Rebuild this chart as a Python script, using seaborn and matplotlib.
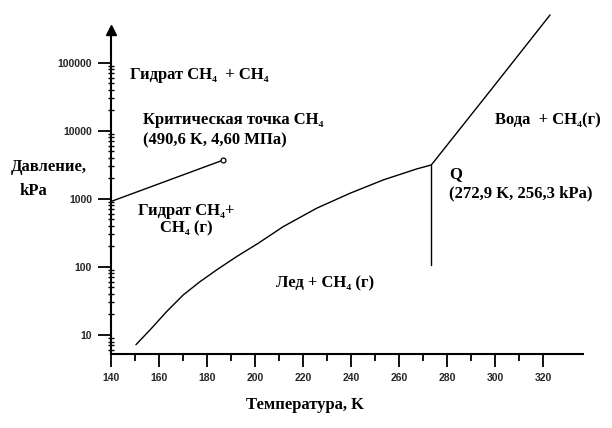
import numpy as np
import pandas as pd
import seaborn as sns
import matplotlib.pyplot as plt
from matplotlib.ticker import FixedLocator, NullFormatter

# hydrate + CH4 / hydrate + CH4(g) boundary, ends at the CH4 critical point
hyd_T = [140, 186.9]
hyd_P = [910, 3720]

# ice + CH4(g) / hydrate boundary up to quadruple point Q
ice_T = [150.5, 156.4, 163.3, 170.2, 177.2, 184.1, 192.4, 201.4, 211.8, 225.7,
         239.6, 253.4, 267.3, 273.4]
ice_P = [7.2, 11.9, 22.1, 38.8, 60.8, 90.4, 141.7, 222.6, 390.8, 727.8,
         1208, 1896, 2748, 3147]

# vertical ice / water line below Q
q_T = [273.4, 273.4]
q_P = [3147, 107]

# water + CH4(g) / hydrate boundary above Q
wat_T = [273.4, 298.5, 322.8]
wat_P = [3147, 41100, 503000]

y_major = [10, 100, 1000, 10000, 100000]
x_major = list(range(140, 321, 20))
x_minor = list(range(150, 311, 20))

sns.set_theme(style="white")
plt.rcParams["font.family"] = ["Liberation Serif", "DejaVu Serif"]

fig = plt.figure(figsize=(6.12, 4.28), dpi=100)
ax = fig.add_axes([0.1809, 0.1729, 0.7717, 0.8271])
ax.set_yscale("log")

line_kw = dict(color="black", lw=1.0, sort=False, estimator=None, ax=ax)
sns.lineplot(data=pd.DataFrame({"T": hyd_T, "P": hyd_P}), x="T", y="P", **line_kw)
sns.lineplot(data=pd.DataFrame({"T": ice_T, "P": ice_P}), x="T", y="P", **line_kw)
sns.lineplot(data=pd.DataFrame({"T": q_T, "P": q_P}), x="T", y="P", **line_kw)
sns.lineplot(data=pd.DataFrame({"T": wat_T, "P": wat_P}), x="T", y="P", **line_kw)
ax.plot(hyd_T[-1], hyd_P[-1], "o", ms=3.5, mfc="white", mec="black", mew=0.9)

ax.set_xlim(140, 336.5)
ax.set_ylim(5.25, 8.34e5)
ax.set_xlabel("")
ax.set_ylabel("")

# axes with arrows
for s in ["top", "right"]:
    ax.spines[s].set_visible(False)
for s in ["left", "bottom"]:
    ax.spines[s].set_color("black")
    ax.spines[s].set_linewidth(1.5)
ax.spines["left"].set_bounds(5.25, 3.0e5)
ax.plot(0, 3.0e5, "^", color="black", ms=7, transform=ax.get_yaxis_transform(),
        clip_on=False)
ax.plot(1, 0, ">", color="black", ms=7, transform=ax.get_xaxis_transform(),
        clip_on=False)

# ticks
ax.yaxis.set_major_locator(FixedLocator(y_major))
ax.set_yticklabels([str(v) for v in y_major])
minor_y = [m * 10 ** e for e in range(0, 5) for m in range(2, 10) if m * 10 ** e >= 6]
ax.yaxis.set_minor_locator(FixedLocator(minor_y))
ax.yaxis.set_minor_formatter(NullFormatter())
ax.set_xticks(x_major)
ax.set_xticks(x_minor, minor=True)
ax.tick_params(axis="both", which="major", direction="out", length=9.5, width=1.3,
               color="black", labelsize=7.5, pad=4, left=True, bottom=True)
ax.tick_params(axis="y", which="minor", direction="inout", length=5, width=1.0,
               color="black", left=True)
ax.tick_params(axis="x", which="minor", direction="out", length=5, width=1.3,
               color="black", bottom=True)
for lab in ax.get_xticklabels() + ax.get_yticklabels():
    lab.set_fontfamily("Liberation Sans")
    lab.set_fontweight("bold")

tkw = dict(fontsize=12, fontweight="bold", color="black")
fig.text(130 / 612, 1 - 75 / 428, "Гидрат CH₄  + CH₄", va="center", **tkw)
fig.text(143 / 612, 1 - 120 / 428, "Критическая точка CH₄", va="center", **tkw)
fig.text(143 / 612, 1 - 140 / 428, "(490,6 K, 4,60 MПa)", va="center", **tkw)
fig.text(186 / 612, 1 - 220 / 428, "Гидрат CH₄+\nCH₄ (г)", va="center", ha="center",
         multialignment="center", linespacing=1.1, **tkw)
fig.text(325 / 612, 1 - 283 / 428, "Лед + CH₄ (г)", va="center", ha="center", **tkw)
fig.text(495 / 612, 1 - 120 / 428, "Вода  + CH₄(г)", va="center", **tkw)
fig.text(449 / 612, 1 - 174 / 428, "Q", va="center", **tkw)
fig.text(449 / 612, 1 - 193 / 428, "(272,9 K, 256,3 kPa)", va="center", **tkw)
fig.text(49 / 612, 1 - 167 / 428, "Давление,", va="center", ha="center", **tkw)
fig.text(33 / 612, 1 - 191 / 428, "kPa", va="center", ha="center", **tkw)
fig.text(305 / 612, 1 - 405 / 428, "Температура, K", va="center", ha="center", **tkw)

fig.savefig("out.png", dpi=100)
